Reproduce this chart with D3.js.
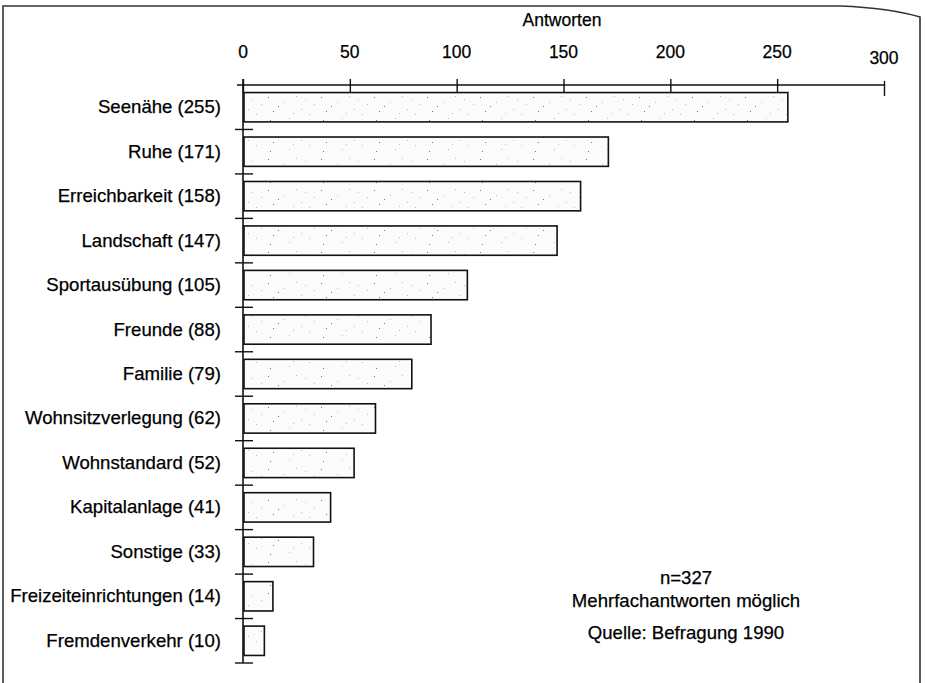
<!DOCTYPE html>
<html>
<head>
<meta charset="utf-8">
<script src="https://cdn.jsdelivr.net/npm/d3@7/dist/d3.min.js"></script>
<style>
  html, body { margin: 0; padding: 0; background: #fff; }
  svg { display: block; }
  text { font-family: "Liberation Sans", Arial, Helvetica, sans-serif; fill: #000; stroke: #000; stroke-width: 0.25px; }
</style>
</head>
<body>
<svg id="chart" width="925" height="683"></svg>
<script>
const categories = ["Seenähe", "Ruhe", "Erreichbarkeit", "Landschaft", "Sportausübung", "Freunde", "Familie", "Wohnsitzverlegung", "Wohnstandard", "Kapitalanlage", "Sonstige", "Freizeiteinrichtungen", "Fremdenverkehr"];
const values = [255, 171, 158, 147, 105, 88, 79, 62, 52, 41, 33, 14, 10];
const tickValues = [0, 50, 100, 150, 200, 250, 300];
const axisTitle = "Antworten";
const notes = ["n=327", "Mehrfachantworten möglich", "", "Quelle: Befragung 1990"];

const svg = d3.select("#chart");

// frame (scanned page border)
svg.append("path")
  .attr("d", "M3,683 L3,6 L840,6 Q890,8 920,17 L920,683")
  .attr("fill", "none").attr("stroke", "#333").attr("stroke-width", 1.6);

// speckle pattern for bars
const defs = svg.append("defs");
const pat = defs.append("pattern").attr("id", "speckle")
  .attr("patternUnits", "userSpaceOnUse").attr("width", 53).attr("height", 31);
pat.append("rect").attr("width", 53).attr("height", 31).attr("fill", "#fcfcfc");
[[3,4],[19,9],[31,3],[8,18],[44,21],[24,25],[13,13],[49,11],[36,16],[5,27],[40,6],[28,20]].forEach(([px,py],i) => {
  pat.append("rect").attr("x", px).attr("y", py).attr("width", 1).attr("height", 1)
    .attr("fill", i % 3 === 0 ? "#777" : "#bbb");
});

const x = d3.scaleLinear().domain([0, 300]).range([243, 884]);
const y = d3.scaleBand().domain(categories).range([85, 663]).paddingInner(0.34).paddingOuter(0.17);
const step = y.step();

// bars
svg.append("g").selectAll("rect").data(categories).join("rect")
  .attr("x", x(0) + 1)
  .attr("y", d => y(d))
  .attr("width", (d, i) => x(values[i]) - x(0) - 1)
  .attr("height", y.bandwidth())
  .attr("fill", "url(#speckle)")
  .attr("stroke", "#111").attr("stroke-width", 1.6);

// top axis
const gx = svg.append("g").attr("transform", "translate(0,85)");
gx.call(d3.axisTop(x).tickValues(tickValues).tickSize(6).tickFormat(""));
gx.select(".domain").remove();
gx.selectAll(".tick line").attr("y1", 8).attr("y2", -6).attr("stroke", "#111").attr("stroke-width", 1.4);
gx.append("line").attr("x1", 237).attr("x2", x(300)).attr("y1", 0).attr("y2", 0)
  .attr("stroke", "#111").attr("stroke-width", 1.4);
gx.selectAll(".tick").filter(d => d === 300).select("line").attr("y1", 11).attr("y2", -4);

svg.append("g").selectAll("text").data(tickValues).join("text")
  .attr("x", d => x(d))
  .attr("y", d => d === 300 ? 64 : 58)
  .attr("text-anchor", "middle")
  .style("font-size", "17.5px")
  .text(d => d);

svg.append("text").attr("x", 562).attr("y", 26).attr("text-anchor", "middle")
  .style("font-size", "17.5px").text(axisTitle);

// left axis
const gy = svg.append("g");
gy.append("line").attr("x1", 243).attr("x2", 243).attr("y1", 79).attr("y2", 663)
  .attr("stroke", "#111").attr("stroke-width", 1.6);
gy.selectAll("line.t").data(categories).join("line").attr("class", "t")
  .attr("x1", 235).attr("x2", 253)
  .attr("y1", d => y(d) - y.paddingOuter() * step + step)
  .attr("y2", d => y(d) - y.paddingOuter() * step + step)
  .attr("stroke", "#111").attr("stroke-width", 1.4);

// category labels
svg.append("g").selectAll("text").data(categories).join("text")
  .attr("x", 221)
  .attr("y", d => y(d) + y.bandwidth() / 2 + 6)
  .attr("text-anchor", "end")
  .style("font-size", "18.6px")
  .text((d, i) => `${d} (${values[i]})`);

// notes
svg.append("g").selectAll("text").data(notes).join("text")
  .attr("x", 686)
  .attr("y", (d, i) => [584, 607, 0, 639][i])
  .attr("text-anchor", "middle")
  .style("font-size", "18.6px")
  .text(d => d);
</script>
</body>
</html>
